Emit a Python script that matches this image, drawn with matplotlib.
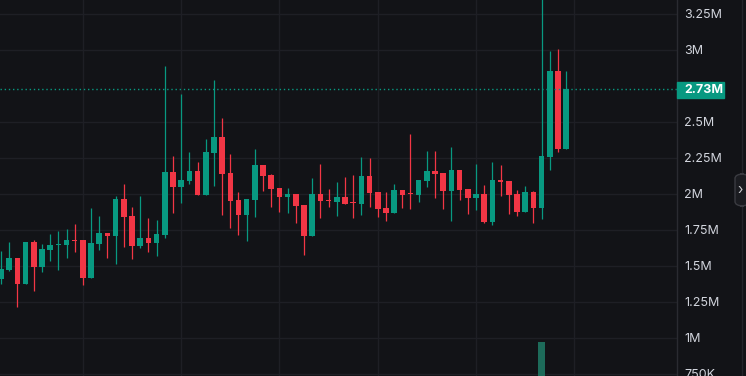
import matplotlib
matplotlib.use("Agg")
import matplotlib.pyplot as plt
import matplotlib.patches as patches
import numpy as np

# candle data, values in millions
opens = [1.410, 1.472, 1.556, 1.375, 1.667, 1.493, 1.611, 1.649, 1.646, 1.681,
         1.681, 1.417, 1.653, 1.729, 1.708, 1.965, 1.847, 1.639, 1.694, 1.660,
         1.715, 2.153, 2.049, 2.090, 2.160, 1.993, 2.285, 2.396, 2.146, 1.958,
         1.854, 1.958, 2.201, 2.132, 2.042, 1.979, 2.000, 1.924, 1.708, 2.000,
         1.958, 1.944, 1.979, 1.938, 1.931, 2.125, 2.014, 1.903, 1.868, 2.028,
         2.000, 1.993, 2.090, 2.160, 2.146, 2.021, 2.167, 2.035, 1.972, 2.000,
         1.806, 2.097, 2.090, 2.000, 1.875, 2.014, 1.903, 2.257, 2.854, 2.313]
highs = [1.604, 1.667, 1.556, 1.667, 1.681, 1.653, 1.722, 1.743, 1.757, 1.792,
         1.681, 1.903, 1.847, 1.729, 1.986, 2.069, 1.910, 1.986, 1.833, 1.819,
         2.889, 2.264, 2.694, 2.292, 2.222, 2.382, 2.792, 2.528, 2.278, 2.014,
         1.965, 2.313, 2.201, 2.139, 2.042, 2.042, 2.000, 1.924, 2.111, 2.208,
         2.035, 2.083, 2.118, 2.132, 2.257, 2.250, 2.014, 2.014, 2.069, 2.028,
         2.417, 2.097, 2.299, 2.299, 2.146, 2.326, 2.167, 2.035, 2.208, 2.063,
         2.222, 2.201, 2.090, 2.028, 2.056, 2.021, 3.400, 2.993, 3.007, 2.854]
lows = [1.375, 1.465, 1.215, 1.375, 1.326, 1.458, 1.535, 1.472, 1.556, 1.597,
        1.368, 1.417, 1.611, 1.556, 1.514, 1.632, 1.549, 1.625, 1.597, 1.569,
        1.694, 1.868, 1.938, 2.069, 1.993, 1.993, 2.056, 1.854, 1.764, 1.715,
        1.674, 1.840, 2.021, 1.910, 1.875, 1.868, 1.799, 1.576, 1.708, 1.833,
        1.910, 1.847, 1.931, 1.833, 1.854, 1.910, 1.840, 1.813, 1.868, 1.903,
        1.896, 1.944, 2.049, 1.972, 1.896, 1.813, 1.958, 1.861, 1.889, 1.799,
        1.785, 1.986, 1.861, 1.847, 1.875, 1.799, 1.826, 2.167, 2.292, 2.313]
closes = [1.479, 1.556, 1.375, 1.667, 1.493, 1.618, 1.646, 1.653, 1.681, 1.674,
          1.417, 1.660, 1.729, 1.708, 1.965, 1.840, 1.639, 1.694, 1.660, 1.722,
          2.153, 2.049, 2.097, 2.160, 1.993, 2.292, 2.396, 2.139, 1.951, 1.854,
          1.965, 2.201, 2.125, 2.035, 1.979, 2.000, 1.917, 1.708, 2.000, 1.951,
          1.951, 1.979, 1.931, 1.934, 2.125, 2.007, 1.896, 1.868, 2.028, 1.993,
          1.997, 2.097, 2.160, 2.139, 2.021, 2.167, 2.028, 1.972, 2.000, 1.806,
          2.097, 2.083, 1.993, 1.875, 2.014, 1.903, 2.264, 2.854, 2.313, 2.730]

# the only volume bar that reaches into view
spike_index = 66
spike_volume = 0.235   # in price-axis units above the bottom edge

last_price = 2.73
tick_values = [0.75, 1.0, 1.25, 1.5, 1.75, 2.0, 2.25, 2.5, 3.0, 3.25]
tick_labels = ["750K", "1M", "1.25M", "1.5M", "1.75M", "2M", "2.25M", "2.5M", "3M", "3.25M"]
vgrid_index = [10, 22, 34, 46, 58, 70]

bg = "#121317"
grid_c = "#1e1f25"
up_c = "#089981"
down_c = "#f23645"
text_c = "#d1d4dc"

plt.rcParams["font.family"] = ["Inter", "DejaVu Sans"]

fig = plt.figure(figsize=(7.46, 3.76), dpi=100, facecolor=bg)
ax = fig.add_axes([0, 0, 677 / 746, 1])
ax.set_facecolor(bg)

ymin, ymax = 0.736, 3.347
ax.set_ylim(ymin, ymax)
ax.set_xlim(-0.12, 82.54)

for v in tick_values:
    ax.axhline(v, color=grid_c, lw=1.0, zorder=0)
for xi in vgrid_index:
    ax.axvline(xi, color=grid_c, lw=1.0, zorder=0)

x = np.arange(len(opens))
o = np.array(opens)
c = np.array(closes)
colors = [up_c if cc >= oo else down_c for oo, cc in zip(o, c)]

# volume spike at the bottom
ax.bar(spike_index, spike_volume, bottom=ymin, width=0.85, color="#1d6b5a", zorder=1)

ax.vlines(x, lows, highs, colors=colors, lw=0.9, zorder=2)
body_lo = np.minimum(o, c)
body_h = np.maximum(np.abs(c - o), 0.007)
ax.bar(x, body_h, bottom=body_lo, width=0.68, color=colors, zorder=3)

# last price line
ax.axhline(last_price, color=up_c, lw=1.0, ls=(0, (1, 2)), zorder=4)

ax.yaxis.tick_right()
ax.set_yticks(tick_values)
ax.set_yticklabels(tick_labels)
ax.tick_params(axis="y", length=0, pad=5, labelsize=9, labelcolor=text_c)
ax.set_xticks([])
for s in ax.spines.values():
    s.set_visible(False)

# price tag
fig.patches.append(patches.Rectangle((677 / 746, (376 - 98) / 376), 47 / 746, 16 / 376,
                                     transform=fig.transFigure, color=up_c, zorder=5))
fig.text(684 / 746, (376 - 90) / 376, "2.73M", color="white", fontsize=9,
         fontweight="bold", va="center", ha="left", zorder=6)

# separator lines
fig.add_artist(plt.Line2D([677 / 746, 677 / 746], [0, 1], color="#2a2b31", lw=1.0,
                          transform=fig.transFigure))
fig.add_artist(plt.Line2D([741.5 / 746, 741.5 / 746], [0, 1], color="#24252b", lw=1.0,
                          transform=fig.transFigure))

# collapse button
btn = patches.FancyBboxPatch((735 / 746, (376 - 206) / 376), 14 / 746, 32 / 376,
                             boxstyle="round,pad=0,rounding_size=0.012",
                             transform=fig.transFigure, facecolor="#1b1c21",
                             edgecolor="#3a3b41", lw=1.0, zorder=7)
fig.patches.append(btn)
fig.text(740.5 / 746, (376 - 190) / 376, "›", color="#c8c9cc", fontsize=10,
         ha="center", va="center", zorder=8)

fig.savefig("out.png", dpi=100, facecolor=bg)
